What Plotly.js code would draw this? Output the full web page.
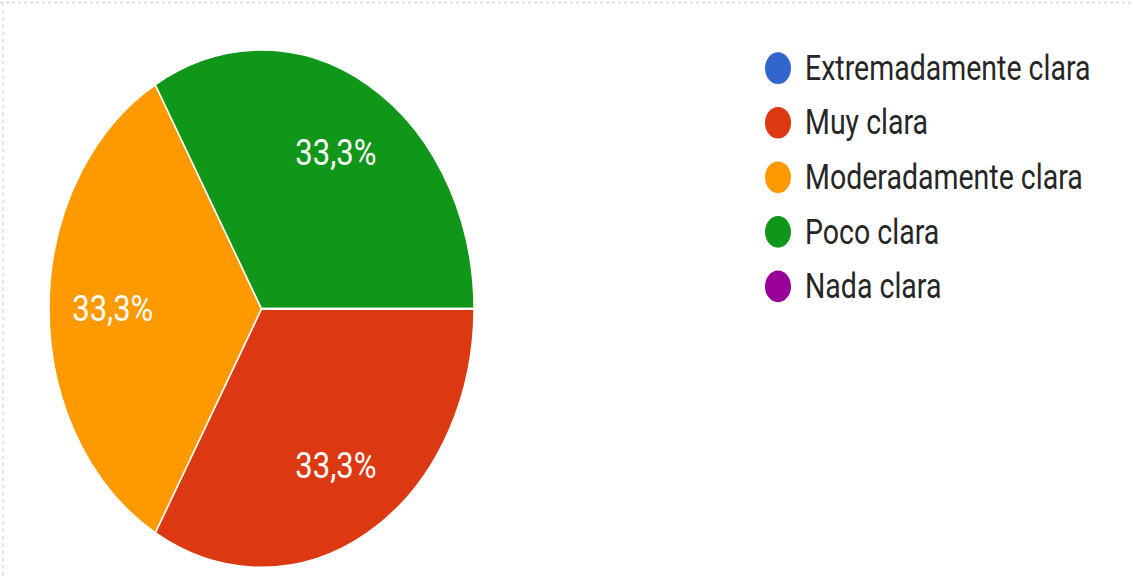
<!DOCTYPE html>
<html>
<head>
<meta charset="utf-8">
<script src="https://cdn.plot.ly/plotly-3.0.1.min.js"></script>
<style>
html,body{margin:0;padding:0;background:#fff;overflow:hidden;}
#wrap{width:1133px;height:576px;overflow:hidden;position:relative;}
#chart{width:1133px;height:473px;transform:scaleY(1.2178);transform-origin:0 0;}
</style>
</head>
<body>
<div id="wrap"><div id="chart"></div></div>
<script>
// Data
const categories = ["Extremadamente clara", "Muy clara", "Moderadamente clara", "Poco clara", "Nada clara"];
const values = [0, 1, 1, 1, 0];
const colors = ["#3366cc", "#dc3912", "#ff9900", "#109618", "#990099"];

const W = 1133, H = 473;
const px = v => v / W;
const py = v => 1 - v / H;

// legend built from the category arrays
const legendX = 778, legendTextX = 803, legendTop = 56, legendStep = 44.8, legendR = 13;
const shapes = [];
const annotations = [];
categories.forEach((c, i) => {
  const cy = legendTop + i * legendStep;
  shapes.push({
    type: 'circle', xref: 'paper', yref: 'paper',
    x0: px(legendX - legendR), x1: px(legendX + legendR),
    y0: py(cy + legendR), y1: py(cy - legendR),
    fillcolor: colors[i], line: {width: 0}
  });
  annotations.push({
    xref: 'paper', yref: 'paper', x: px(legendTextX), y: py(cy),
    xanchor: 'left', yanchor: 'middle', showarrow: false,
    text: c, font: {family: 'Roboto, Arial, sans-serif', size: 28.5, color: '#262626'}
  });
});
// faint torn-edge border at top and left
shapes.push({type:'line', xref:'paper', yref:'paper', x0:0, x1:1, y0:py(2), y1:py(2), line:{color:'#e4e4e4', width:2, dash:'dot'}});
shapes.push({type:'line', xref:'paper', yref:'paper', x0:px(3), x1:px(3), y0:0, y1:py(2), line:{color:'#e4e4e4', width:2, dash:'dot'}});

const pieDomain = {x: [px(49), px(474)], y: [py(466), py(41)]};
const common = {
  type: 'pie',
  labels: categories,
  values: values,
  sort: false,
  direction: 'clockwise',
  rotation: 90,
  showlegend: false,
  hoverinfo: 'none',
  domain: pieDomain
};
// full pie with the coloured slices
const base = Object.assign({}, common, {
  textinfo: 'none',
  marker: {colors: colors, line: {color: '#ffffff', width: 1.5}}
});
// transparent ring on top carries only the labels so they sit at ~70% of the radius
const ring = Object.assign({}, common, {
  hole: 0.4,
  marker: {colors: categories.map(() => 'rgba(0,0,0,0)'), line: {width: 0}},
  texttemplate: '%{percent:.1%}',
  textposition: 'inside',
  insidetextorientation: 'horizontal',
  textfont: {family: 'Roboto, Arial, sans-serif', size: 31, color: '#ffffff'}
});

const layout = {
  width: W, height: H,
  margin: {l: 0, r: 0, t: 0, b: 0},
  paper_bgcolor: '#ffffff',
  separators: ',.',
  showlegend: false,
  shapes: shapes,
  annotations: annotations
};

Plotly.newPlot('chart', [base, ring], layout, {displayModeBar: false, staticPlot: true});
</script>
</body>
</html>
